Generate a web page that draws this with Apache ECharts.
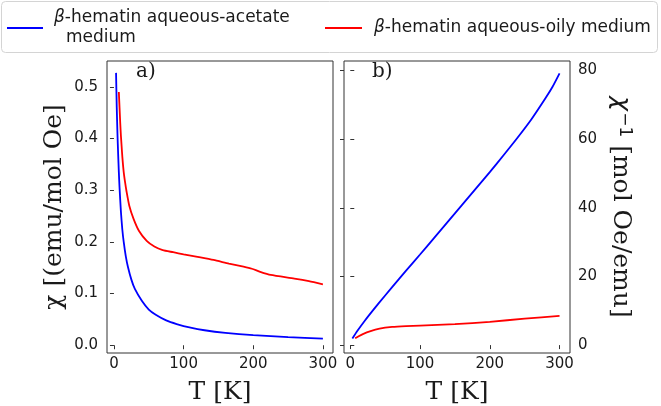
<!DOCTYPE html>
<html>
<head>
<meta charset="utf-8">
<script src="https://cdn.jsdelivr.net/npm/echarts@6/dist/echarts.min.js"></script>
<style>
  html, body { margin: 0; padding: 0; background: #fff; }
  #chart { width: 661px; height: 406px; }
</style>
</head>
<body>
<div id="chart"></div>
<script>
// panel a) chi vs T
const tempBlueA = [3, 4, 5, 6, 7, 8, 10, 12, 14, 17, 20, 25, 30, 40, 50, 60, 75, 90, 110, 130, 160, 200, 250, 300];
const chiBlue = [0.527, 0.46, 0.41, 0.37, 0.335, 0.305, 0.258, 0.224, 0.2, 0.172, 0.152, 0.127, 0.109, 0.086, 0.069, 0.059, 0.048, 0.041, 0.034, 0.029, 0.024, 0.0195, 0.0158, 0.0127];
const tempRedA = [7, 8, 9, 10, 11, 12, 14, 16, 18, 22, 28, 36, 47, 58, 70, 85, 100, 120, 143, 165, 186, 198, 210, 225, 259, 280, 300];
const chiRed = [0.49, 0.46, 0.43, 0.405, 0.385, 0.365, 0.335, 0.315, 0.298, 0.27, 0.245, 0.221, 0.202, 0.191, 0.184, 0.18, 0.176, 0.171, 0.165, 0.158, 0.152, 0.148, 0.142, 0.136, 0.129, 0.124, 0.118];

// panel b) 1/chi vs T
const tempBlueB = [3, 10, 20, 40, 60, 80, 100, 120, 140, 160, 180, 200, 220, 240, 260, 280, 290, 300];
const invChiBlue = [1.9, 4.1, 6.9, 12, 16.9, 21.7, 26.4, 31.2, 36, 40.8, 45.6, 50.4, 55.4, 60.5, 65.9, 72, 75.3, 79.2];
const tempRedB = [7, 12, 18, 28, 42, 60, 80, 100, 150, 200, 250, 300];
const invChiRed = [2.0, 2.6, 3.2, 4.0, 4.8, 5.3, 5.55, 5.7, 6.1, 6.8, 7.7, 8.5];

// tick labels
const tempTicks = [0, 100, 200, 300];
const chiTicks = [0, 0.1, 0.2, 0.3, 0.4, 0.5];
const invChiTicks = [0, 20, 40, 60, 80];

const nameBlue = 'blue';
const nameRed = 'red';

function zip(xs, ys) {
  return xs.map((x, i) => [x, ys[i]]);
}

const chart = echarts.init(document.getElementById('chart'));

const tickStyle = { show: true, length: 4, lineStyle: { color: '#333', width: 1 } };
const labelFont = { fontFamily: 'DejaVu Sans', fontSize: 15, color: '#1a1a1a' };
const nameFont = { fontFamily: 'DejaVu Serif', fontSize: 25, color: '#1a1a1a' };

function lineSeries(name, xi, yi, color, pts) {
  return {
    name: name, type: 'line', xAxisIndex: xi, yAxisIndex: yi,
    data: pts, showSymbol: false, smooth: 0.2,
    lineStyle: { color: color, width: 1.8 }, itemStyle: { color: color }
  };
}

const option = {
  animation: false,
  backgroundColor: '#fff',
  graphic: [
    {
      type: 'rect', z: -10,
      shape: { x: 1.5, y: 1.5, width: 656, height: 51, r: 4 },
      style: { fill: '#fff', stroke: '#d4d4d4', lineWidth: 1 }
    },
    {
      type: 'text', left: 136, top: 62,
      style: { text: 'a)', font: '20px "DejaVu Serif"', fill: '#1a1a1a' }
    },
    {
      type: 'text', left: 372, top: 62,
      style: { text: 'b)', font: '20px "DejaVu Serif"', fill: '#1a1a1a' }
    }
  ],
  legend: [
    {
      data: [nameBlue], left: 7, top: 8, padding: 0,
      icon: 'rect', itemWidth: 36, itemHeight: 2, itemGap: 0,
      formatter: () => '{g|β}-hematin aqueous-acetate\n{m|medium}',
      textStyle: {
        fontFamily: 'DejaVu Sans', fontSize: 17, color: '#1a1a1a', lineHeight: 20,
        padding: [0, 0, 0, 6],
        rich: {
          g: { fontFamily: 'DejaVu Sans', fontStyle: 'italic', fontSize: 17, color: '#1a1a1a', lineHeight: 20 },
          m: { fontFamily: 'DejaVu Sans', fontSize: 17, color: '#1a1a1a', lineHeight: 20, padding: [0, 0, 0, 12] }
        }
      }
    },
    {
      data: [nameRed], left: 325, top: 18, padding: 0,
      icon: 'rect', itemWidth: 37, itemHeight: 2, itemGap: 0,
      formatter: () => '{g|β}-hematin aqueous-oily medium',
      textStyle: {
        fontFamily: 'DejaVu Sans', fontSize: 17, color: '#1a1a1a', lineHeight: 20,
        padding: [0, 0, 0, 7],
        rich: {
          g: { fontFamily: 'DejaVu Sans', fontStyle: 'italic', fontSize: 17, color: '#1a1a1a', lineHeight: 20 }
        }
      }
    }
  ],
  grid: [
    { left: 107, top: 61, width: 226, height: 292, outerBoundsMode: 'none', containLabel: false, show: true, borderColor: '#333', borderWidth: 1, backgroundColor: 'transparent' },
    { left: 344, top: 61, width: 226, height: 292, outerBoundsMode: 'none', containLabel: false, show: true, borderColor: '#333', borderWidth: 1, backgroundColor: 'transparent' }
  ],
  xAxis: [
    {
      gridIndex: 0, type: 'value', min: -10, max: 314.5,
      axisLine: { show: false }, splitLine: { show: false },
      axisTick: Object.assign({ customValues: tempTicks }, tickStyle),
      axisLabel: Object.assign({ customValues: tempTicks, margin: 4 }, labelFont),
      name: 'T [K]', nameLocation: 'middle', nameGap: 27, nameTextStyle: nameFont
    },
    {
      gridIndex: 1, type: 'value', min: -9, max: 315,
      axisLine: { show: false }, splitLine: { show: false },
      axisTick: Object.assign({ customValues: tempTicks }, tickStyle),
      axisLabel: Object.assign({ customValues: tempTicks, margin: 4 }, labelFont),
      name: 'T [K]', nameLocation: 'middle', nameGap: 27, nameTextStyle: nameFont
    }
  ],
  yAxis: [
    {
      gridIndex: 0, type: 'value', min: -0.015, max: 0.55,
      axisLine: { show: false }, splitLine: { show: false },
      axisTick: Object.assign({ customValues: chiTicks }, tickStyle),
      axisLabel: Object.assign({ customValues: chiTicks, margin: 9, formatter: v => v.toFixed(1) }, labelFont),
      name: 'χ [(emu/mol Oe]', nameLocation: 'middle', nameGap: 40, nameTextStyle: nameFont
    },
    {
      gridIndex: 1, type: 'value', position: 'right', min: -2.3, max: 82.8,
      axisLine: { show: false }, splitLine: { show: false },
      axisTick: Object.assign({ customValues: invChiTicks }, tickStyle),
      axisLabel: Object.assign({ customValues: invChiTicks, margin: 8 }, labelFont),
      name: '{c|χ}{s|−1} [mol Oe/emu]', nameLocation: 'middle', nameRotate: -90, nameGap: 38,
      nameTextStyle: Object.assign({
        rich: {
          c: { fontFamily: 'DejaVu Sans', fontStyle: 'italic', fontSize: 25, color: '#1a1a1a' },
          s: { fontFamily: 'DejaVu Sans', fontSize: 17, color: '#1a1a1a', verticalAlign: 'top', padding: [0, 0, 8, 1] }
        }
      }, nameFont)
    },
    {
      gridIndex: 1, type: 'value', position: 'left', min: -2.3, max: 82.8,
      axisLine: { show: false }, splitLine: { show: false },
      axisTick: Object.assign({ customValues: invChiTicks }, tickStyle),
      axisLabel: { show: false }
    }
  ],
  series: [
    lineSeries(nameBlue, 0, 0, '#0000ff', zip(tempBlueA, chiBlue)),
    lineSeries(nameRed, 0, 0, '#ff0000', zip(tempRedA, chiRed)),
    lineSeries(nameBlue, 1, 1, '#0000ff', zip(tempBlueB, invChiBlue)),
    lineSeries(nameRed, 1, 1, '#ff0000', zip(tempRedB, invChiRed))
  ]
};

chart.setOption(option);
</script>
</body>
</html>
